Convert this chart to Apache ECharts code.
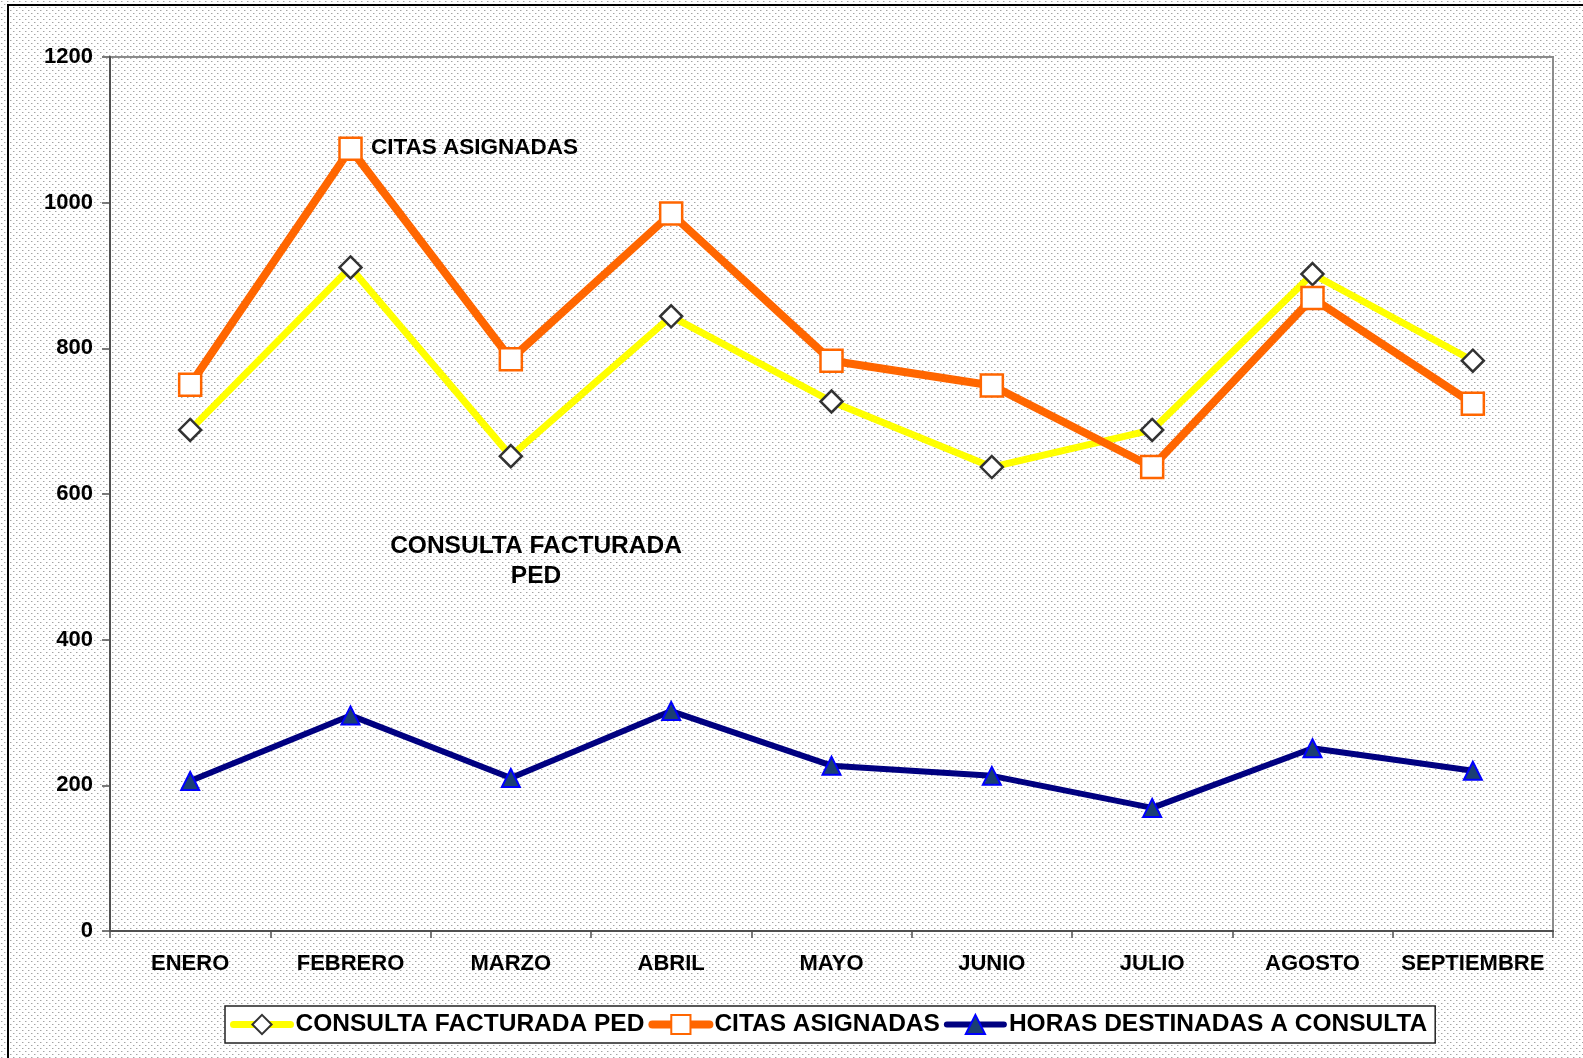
<!DOCTYPE html>
<html>
<head>
<meta charset="utf-8">
<title>Consulta PED</title>
<script src="https://cdn.jsdelivr.net/npm/echarts@6/dist/echarts.min.js"></script>
<style>
  html, body { margin: 0; padding: 0; background: #fff; }
  #chart { width: 1583px; height: 1058px; }
</style>
</head>
<body>
<div id="chart"></div>
<script>
// meses
const meses = ['ENERO', 'FEBRERO', 'MARZO', 'ABRIL', 'MAYO', 'JUNIO', 'JULIO', 'AGOSTO', 'SEPTIEMBRE']
// valores
const consultaFacturada = [688, 911, 652, 844, 727, 637, 688, 902, 783]
const citasAsignadas = [750, 1074, 785, 985, 783, 749, 637, 869, 724]
const horasConsulta = [206, 296, 210, 302, 227, 213, 169, 251, 220]

const fuente = '"Liberation Sans", Arial, sans-serif'

// fondo punteado
function patron() {
  const c = document.createElement('canvas')
  c.width = 6
  c.height = 6
  const ctx = c.getContext('2d')
  ctx.fillStyle = '#ffffff'
  ctx.fillRect(0, 0, 6, 6)
  ctx.fillStyle = '#a4a4a4'
  ctx.fillRect(1, 1, 1, 1)
  ctx.fillRect(4, 4, 1, 1)
  ctx.fillStyle = '#d6d6d6'
  ctx.fillRect(2, 1, 1, 1)
  ctx.fillRect(5, 4, 1, 1)
  return c.toDataURL()
}
document.getElementById('chart').style.background = 'url(' + patron() + ')'

const chart = echarts.init(document.getElementById('chart'))

const option = {
  backgroundColor: 'transparent',
  animation: false,
  textStyle: { fontFamily: fuente },
  grid: {
    left: 110,
    right: 30,
    top: 57,
    bottom: 127,
    show: true,
    borderColor: '#8c8c8c',
    borderWidth: 2,
    backgroundColor: 'transparent'
  },
  legend: {
    left: 225,
    top: 1006,
    padding: [6, 8, 6, 5],
    itemWidth: 57,
    itemHeight: 24,
    itemGap: 4,
    backgroundColor: '#ffffff',
    borderColor: '#222',
    borderWidth: 1.5,
    textStyle: { fontFamily: fuente, fontWeight: 'bold', fontSize: 24.5, color: '#000' },
    data: [
      { name: 'CONSULTA FACTURADA PED', lineStyle: { width: 7, cap: 'round' } },
      { name: 'CITAS ASIGNADAS', lineStyle: { width: 8, cap: 'round' } },
      { name: 'HORAS DESTINADAS A CONSULTA', lineStyle: { width: 6, cap: 'round' } }
    ]
  },
  xAxis: {
    type: 'category',
    data: meses,
    boundaryGap: true,
    axisLine: { lineStyle: { color: '#505050', width: 2 } },
    axisTick: { show: true, length: 7, lineStyle: { color: '#505050', width: 1.5 } },
    axisLabel: { margin: 22, fontFamily: fuente, fontWeight: 'bold', fontSize: 22, color: '#000', interval: 0 }
  },
  yAxis: {
    type: 'value',
    min: 0,
    max: 1200,
    interval: 200,
    axisLine: { show: true, lineStyle: { color: '#505050', width: 2 } },
    axisTick: { show: true, length: 8, lineStyle: { color: '#505050', width: 1.5 } },
    splitLine: { show: false },
    axisLabel: {
      margin: 17,
      fontFamily: fuente,
      fontWeight: 'bold',
      fontSize: 22,
      color: '#000',
      formatter: function (v) { return String(v) }
    }
  },
  graphic: [
    {
      type: 'rect',
      shape: { x: 8, y: 5, width: 1700, height: 1200 },
      style: { fill: 'none', stroke: '#000', lineWidth: 2 },
      silent: true
    },
    {
      type: 'text',
      left: 371,
      top: 136,
      style: { text: 'CITAS ASIGNADAS', font: 'bold 22.5px ' + fuente, fill: '#000' }
    },
    {
      type: 'text',
      x: 536,
      y: 531,
      style: {
        text: 'CONSULTA FACTURADA\nPED',
        font: 'bold 24.5px ' + fuente,
        fill: '#000',
        align: 'center',
        lineHeight: 30
      }
    }
  ],
  series: [
    {
      name: 'CONSULTA FACTURADA PED',
      type: 'line',
      data: consultaFacturada,
      symbol: 'diamond',
      symbolSize: 22,
      lineStyle: { color: '#ffff00', width: 7 },
      itemStyle: { color: '#ffffff', borderColor: '#333333', borderWidth: 2.5 },
      z: 2
    },
    {
      name: 'CITAS ASIGNADAS',
      type: 'line',
      data: citasAsignadas,
      symbol: 'rect',
      symbolSize: 22,
      lineStyle: { color: '#ff6600', width: 8 },
      itemStyle: { color: '#ffffff', borderColor: '#ff6600', borderWidth: 2.5 },
      z: 3
    },
    {
      name: 'HORAS DESTINADAS A CONSULTA',
      type: 'line',
      data: horasConsulta,
      symbol: 'triangle',
      symbolSize: 18,
      lineStyle: { color: '#000080', width: 6 },
      itemStyle: { color: '#1b3f73', borderColor: '#0000ff', borderWidth: 2 },
      z: 4
    }
  ]
}

chart.setOption(option)
</script>
</body>
</html>
